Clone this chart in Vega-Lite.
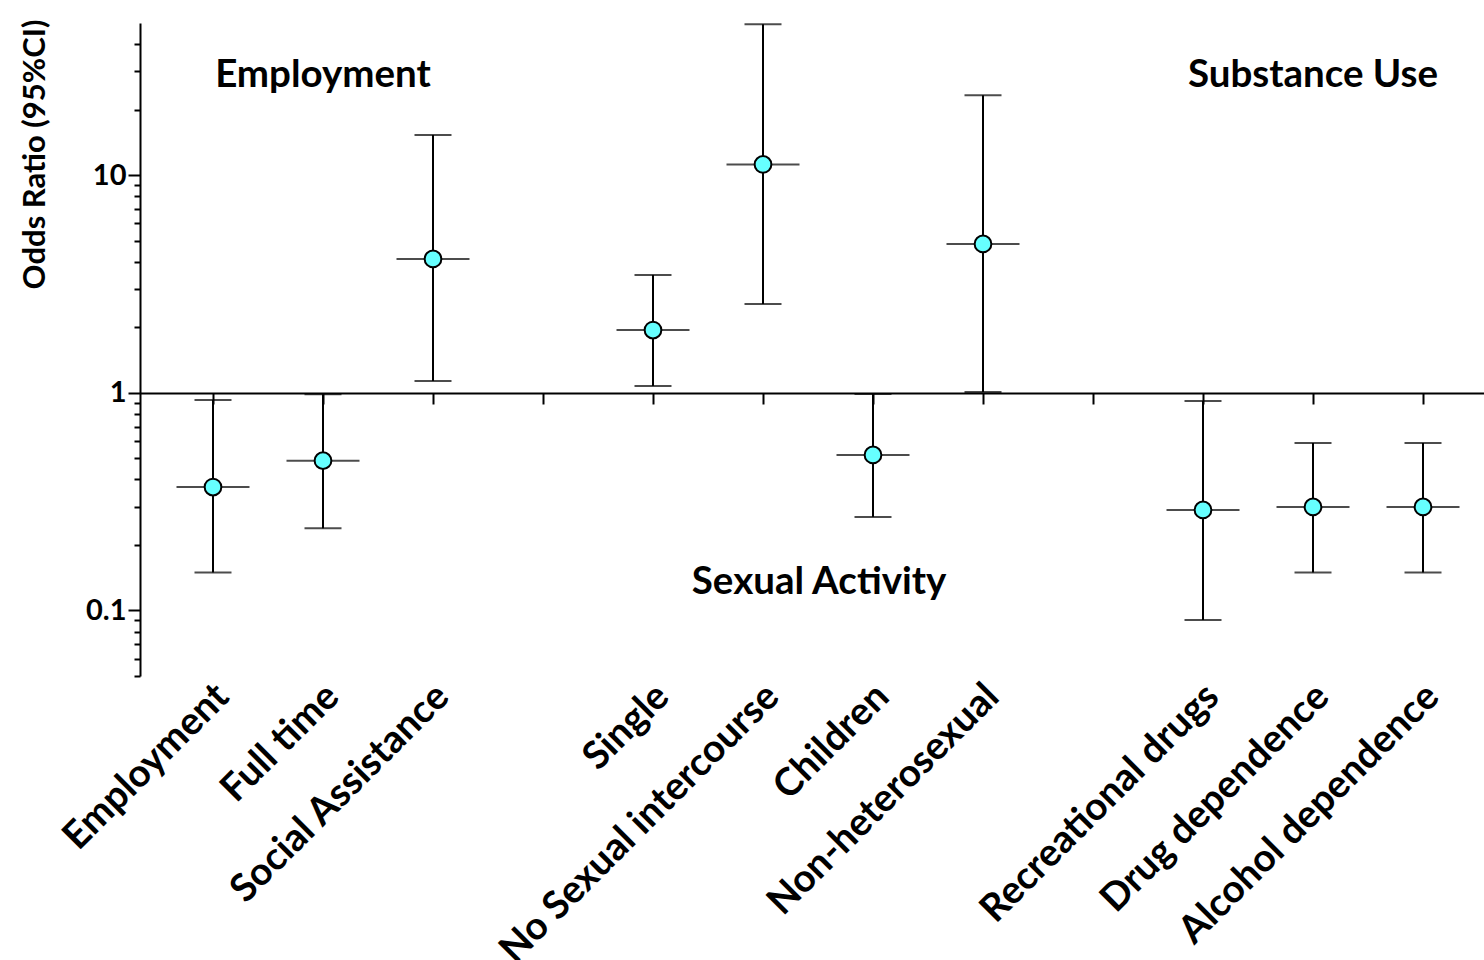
{
  "$schema": "https://vega.github.io/schema/vega-lite/v6.json",
  "autosize": "none",
  "width": 1344,
  "height": 653,
  "padding": {"left": 140, "top": 23, "right": 0, "bottom": 284},
  "background": "white",
  "config": {"view": {"stroke": null}, "font": "Lato"},
  "datasets": {
    "odds": [
      {"pos": 1, "factor": "Employment", "or": 0.369, "lo": 0.1495, "hi": 0.927},
      {"pos": 2, "factor": "Full time", "or": 0.488, "lo": 0.2385, "hi": 0.985},
      {"pos": 3, "factor": "Social Assistance", "or": 4.12, "lo": 1.133, "hi": 15.3},
      {"pos": 5, "factor": "Single", "or": 1.943, "lo": 1.075, "hi": 3.48},
      {"pos": 6, "factor": "No Sexual intercourse", "or": 11.2, "lo": 2.56, "hi": 49.4},
      {"pos": 7, "factor": "Children", "or": 0.518, "lo": 0.269, "hi": 0.988},
      {"pos": 8, "factor": "Non-heterosexual", "or": 4.83, "lo": 1.008, "hi": 23.3},
      {"pos": 10, "factor": "Recreational drugs", "or": 0.2895, "lo": 0.0904, "hi": 0.917},
      {"pos": 11, "factor": "Drug dependence", "or": 0.299, "lo": 0.1495, "hi": 0.588},
      {"pos": 12, "factor": "Alcohol dependence", "or": 0.299, "lo": 0.1495, "hi": 0.588}
    ],
    "groups": [
      {"group": "Employment", "pos": 2, "or": 25.5},
      {"group": "Sexual Activity", "pos": 6.51, "or": 0.119},
      {"group": "Substance Use", "pos": 11, "or": 25.5}
    ]
  },
  "layer": [
    {
      "data": {"name": "odds"},
      "mark": {"type": "rule", "color": "black", "strokeWidth": 2},
      "encoding": {
        "x": {
          "field": "pos",
          "type": "quantitative",
          "scale": {"domain": [0.3364, 12.5545], "nice": false, "zero": false},
          "axis": {
            "orient": "bottom",
            "offset": -283,
            "title": null,
            "grid": false,
            "values": [1, 2, 3, 4, 5, 6, 7, 8, 9, 10, 11, 12],
            "labelExpr": "['', 'Employment', 'Full time', 'Social Assistance', '', 'Single', 'No Sexual intercourse', 'Children', 'Non-heterosexual', '', 'Recreational drugs', 'Drug dependence', 'Alcohol dependence'][datum.value]",
            "domainColor": "black",
            "domainWidth": 2,
            "tickColor": "black",
            "tickWidth": 2,
            "tickSize": 11,
            "labelAngle": -45,
            "labelAlign": "right",
            "labelBaseline": "middle",
            "labelPadding": 286,
            "labelOffset": 9,
            "labelLimit": 0,
            "labelFont": "Lato",
            "labelFontSize": 38.5,
            "labelFontWeight": "bold",
            "labelColor": "black",
            "labelOverlap": false,
            "labelBound": false,
            "labelFlush": false
          }
        },
        "y": {
          "field": "lo",
          "type": "quantitative",
          "scale": {"type": "log", "domain": [0.05, 50], "nice": false, "zero": false},
          "axis": {
            "orient": "left",
            "title": "Odds Ratio (95%CI)",
            "grid": false,
            "values": [0.05, 0.06, 0.07, 0.08, 0.09, 0.1, 0.2, 0.3, 0.4, 0.5, 0.6, 0.7, 0.8, 0.9, 1, 2, 3, 4, 5, 6, 7, 8, 9, 10, 20, 30, 40],
            "labelExpr": "datum.value == 0.1 ? '0.1' : datum.value == 1 ? '1' : datum.value == 10 ? '10' : ''",
            "domainColor": "black",
            "domainWidth": 2,
            "tickColor": "black",
            "tickWidth": 2,
            "tickSize": {"condition": {"test": "datum.value == 0.1 || datum.value == 1 || datum.value == 10", "value": 12}, "value": 6},
            "labelPadding": 2,
            "labelFont": "Lato",
            "labelFontSize": 29,
            "labelFontWeight": "bold",
            "labelColor": "black",
            "labelOverlap": false,
            "titleFont": "Lato",
            "titleFontSize": 31,
            "titleFontWeight": "bold",
            "titleColor": "black",
            "titleAngle": -90,
            "titleAlign": "center",
            "titleBaseline": "middle",
            "titleX": -105,
            "titleY": 131
          }
        },
        "y2": {"field": "hi"}
      }
    },
    {
      "data": {"name": "odds"},
      "mark": {"type": "tick", "orient": "horizontal", "color": "black", "size": 37, "thickness": 2},
      "encoding": {
        "x": {"field": "pos", "type": "quantitative"},
        "y": {"field": "lo", "type": "quantitative"}
      }
    },
    {
      "data": {"name": "odds"},
      "mark": {"type": "tick", "orient": "horizontal", "color": "black", "size": 37, "thickness": 2},
      "encoding": {
        "x": {"field": "pos", "type": "quantitative"},
        "y": {"field": "hi", "type": "quantitative"}
      }
    },
    {
      "data": {"name": "odds"},
      "mark": {"type": "tick", "orient": "horizontal", "color": "black", "size": 73, "thickness": 2},
      "encoding": {
        "x": {"field": "pos", "type": "quantitative"},
        "y": {"field": "or", "type": "quantitative"}
      }
    },
    {
      "data": {"name": "odds"},
      "mark": {"type": "point", "shape": "circle", "filled": true, "fill": "#66FFFF", "stroke": "black", "strokeWidth": 2, "size": 280, "opacity": 1},
      "encoding": {
        "x": {"field": "pos", "type": "quantitative"},
        "y": {"field": "or", "type": "quantitative"}
      }
    },
    {
      "data": {"name": "groups"},
      "mark": {"type": "text", "font": "Lato", "fontSize": 38.5, "fontWeight": "bold", "color": "black", "align": "center", "baseline": "alphabetic"},
      "encoding": {
        "x": {"field": "pos", "type": "quantitative"},
        "y": {"field": "or", "type": "quantitative"},
        "text": {"field": "group"}
      }
    }
  ]
}
